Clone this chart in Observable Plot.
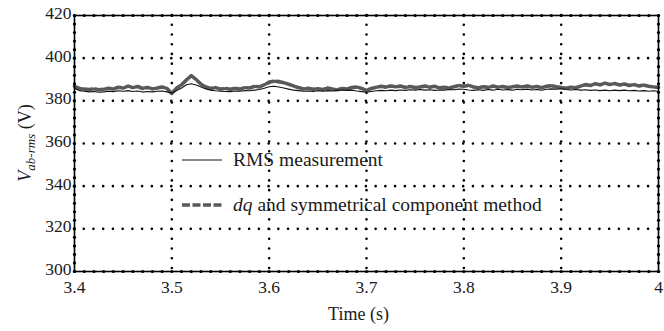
<!DOCTYPE html>
<html>
<head>
<meta charset="utf-8">
<script src="https://cdn.jsdelivr.net/npm/d3@7"></script>
<script src="https://cdn.jsdelivr.net/npm/@observablehq/plot@0.6"></script>
<style>
  html, body { margin: 0; padding: 0; background: #fff; }
  #wrap { position: relative; width: 664px; height: 331px; font-family: "Liberation Serif", "Times New Roman", serif; }
  .leg { position: absolute; left: 182px; font-size: 19.5px; line-height: 22px; color: #1a1a1a; display: flex; align-items: center; white-space: nowrap; }
  .leg svg { margin-right: 11px; }
</style>
</head>
<body>
<div id="wrap"></div>
<script>
const step = 0.005;
const startTime = 3.4;
const rmsMeasurement = [385.8,384.8,384.5,384.2,384.4,384.0,384.2,384.5,384.3,384.7,384.5,384.8,384.4,384.6,384.1,384.4,384.2,384.5,384.6,384.2,
383.6,384.8,386.0,387.5,388.0,387.4,386.5,385.6,385.0,384.7,384.5,384.4,384.3,384.6,384.5,384.8,384.7,385.0,385.3,385.9,
386.6,386.8,386.5,386.0,385.5,385.0,384.8,384.5,384.6,384.4,384.7,384.5,384.8,384.6,384.9,385.1,384.9,385.0,384.6,384.3,
384.0,384.4,384.7,384.9,384.7,385.0,384.8,385.1,384.9,385.2,385.0,385.3,385.0,385.2,384.9,385.1,385.0,385.3,385.2,385.5,
385.4,385.1,384.9,385.2,384.9,385.3,385.0,385.4,385.1,385.3,385.0,385.4,385.2,385.5,385.1,385.3,385.0,385.4,385.6,385.5,
385.7,385.3,385.1,385.3,385.0,385.2,384.9,385.1,384.8,385.0,384.7,385.0,384.8,385.0,384.7,384.9,384.6,384.8,384.5,384.7,
384.5];
const dqMethod = [386.8,385.8,385.5,385.3,385.6,385.2,385.4,385.9,385.5,386.4,386.0,386.9,386.2,386.7,385.8,386.3,385.6,386.0,386.5,385.8,
383.5,386.0,387.5,389.8,391.8,390.0,387.8,386.5,385.8,386.2,385.5,385.8,385.4,385.9,385.5,386.2,386.0,386.8,386.5,387.5,
388.8,389.2,389.0,388.5,387.8,387.0,386.2,385.6,385.9,385.4,385.7,385.3,386.0,385.5,385.2,385.8,385.6,386.2,386.5,385.8,
384.8,385.8,386.3,386.8,386.4,387.0,386.6,386.9,386.3,386.7,386.2,386.5,386.9,386.4,386.8,386.1,386.3,386.0,386.6,387.2,
386.8,387.3,386.5,386.1,386.6,386.3,386.9,386.4,386.7,386.2,386.6,386.9,386.5,387.0,386.4,386.7,386.2,386.8,387.1,386.6,
386.3,385.9,386.4,386.1,386.9,387.6,387.2,388.0,387.5,388.3,387.7,388.1,387.4,387.9,387.2,387.6,387.0,387.4,386.8,386.5,
386.3];
const xTicks = [3.4,3.5,3.6,3.7,3.8,3.9,4.0];
const xTickLabels = ["3.4","3.5","3.6","3.7","3.8","3.9","4"];
const yTicks = [300,320,340,360,380,400,420];
const legendLabels = ["RMS measurement", "dq and symmetrical component method"];

const rmsData = rmsMeasurement.map((v, i) => ({t: startTime + i * step, v}));
const dqData = dqMethod.map((v, i) => ({t: startTime + i * step, v}));
const minorX = d3.range(0, 61).map(i => 3.4 + i * 0.01);
const minorY = d3.range(0, 31).map(i => 300 + i * 4);
const serif = '"Liberation Serif", "Times New Roman", serif';

const chart = Plot.plot({
  width: 664,
  height: 331,
  marginLeft: 74,
  marginRight: 6,
  marginTop: 15,
  marginBottom: 60,
  style: { fontFamily: serif, fontSize: "18px", color: "#1a1a1a", background: "#fff" },
  x: { domain: [3.4, 4.0], label: null },
  y: { domain: [300, 420], label: null },
  marks: [
    Plot.gridX(xTicks.slice(1, -1), { stroke: "#000", strokeOpacity: 1, strokeWidth: 2.6, strokeDasharray: "0,9.73", strokeLinecap: "round" }),
    Plot.gridY(yTicks.slice(1, -1), { stroke: "#000", strokeOpacity: 1, strokeWidth: 2.6, strokeDasharray: "0,9.73", strokeLinecap: "round" }),
    Plot.line(dqData, { x: "t", y: "v", stroke: "#595959", strokeWidth: 3.6, strokeDasharray: "8,2.5" }),
    Plot.line(rmsData, { x: "t", y: "v", stroke: "#111", strokeWidth: 1.1 }),
    Plot.frame({ stroke: "#000", strokeWidth: 1.6 }),
    Plot.dot(minorX, { x: d => d, y: () => 420, r: 1.6, fill: "#000" }),
    Plot.dot(minorX, { x: d => d, y: () => 300, r: 1.6, fill: "#000" }),
    Plot.dot(minorY, { x: () => 3.4, y: d => d, r: 1.6, fill: "#000" }),
    Plot.dot(minorY, { x: () => 4.0, y: d => d, r: 1.6, fill: "#000" }),
    Plot.axisX(xTicks, { tickSize: 0, tickPadding: 9, tickFormat: (d, i) => xTickLabels[i], fontSize: 17.5, fill: "#1a1a1a", fontFamily: serif }),
    Plot.axisY(yTicks, { tickSize: 0, tickPadding: 3, dy: -2, fontSize: 17.5, fill: "#1a1a1a", fontFamily: serif }),
    Plot.text(["Time (s)"], { frameAnchor: "bottom", dx: -8, dy: 48, fontSize: 18, fill: "#1a1a1a", fontFamily: serif })
  ]
});

const svg = d3.select(chart);
const lab = svg.append("text")
  .attr("transform", "translate(31,143) rotate(-90)")
  .attr("text-anchor", "middle")
  .attr("font-family", serif)
  .attr("font-size", 18)
  .attr("fill", "#1a1a1a");
lab.append("tspan").attr("font-style", "italic").text("V");
lab.append("tspan").attr("font-style", "italic").attr("font-size", 13).attr("dy", 4).text("ab-rms");
lab.append("tspan").attr("dy", -4).text(" (V)");

const wrap = document.getElementById("wrap");
wrap.appendChild(chart);

const l1 = document.createElement("div");
l1.className = "leg";
l1.style.top = "149px";
l1.innerHTML = '<svg width="40" height="6"><line x1="0" x2="40" y1="3" y2="3" stroke="#111" stroke-width="1.1"/></svg><span>' + legendLabels[0] + '</span>';
wrap.appendChild(l1);

const l2 = document.createElement("div");
l2.className = "leg";
l2.style.top = "194px";
l2.innerHTML = '<svg width="40" height="6"><line x1="0" x2="40" y1="3" y2="3" stroke="#595959" stroke-width="3.6" stroke-dasharray="8,2.5"/></svg><span><i>dq</i>' + legendLabels[1].slice(2) + '</span>';
wrap.appendChild(l2);
</script>
</body>
</html>
